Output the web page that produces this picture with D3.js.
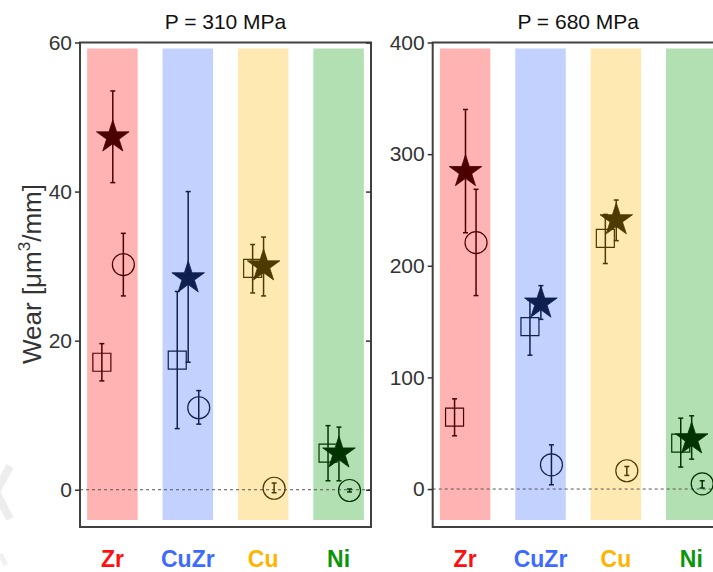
<!DOCTYPE html>
<html>
<head>
<meta charset="utf-8">
<script src="https://cdn.jsdelivr.net/npm/d3@7"></script>
<style>
  html, body { margin: 0; padding: 0; background: #fff; }
  svg { display: block; font-family: "Liberation Sans", Arial, sans-serif; }
</style>
</head>
<body>
<svg id="chart" width="713" height="572"></svg>
<script>
// Materials along the x axis
const categories = ["Zr", "CuZr", "Cu", "Ni"];
const labelColors = ["#ff1010", "#3d6bff", "#ffb400", "#0a960a"];
const bandColors = ["#ffb3b3", "#c2d1ff", "#ffe9b2", "#b2e0b2"];
const markColors = ["#4d0000", "#0f1f4f", "#4d3a00", "#003300"];

// Panel titles, y ranges and ticks
const titles = ["P = 310 MPa", "P = 680 MPa"];
const yDomain310 = [-5, 60];
const yDomain680 = [-34, 400];
const ticks310 = [0, 20, 40, 60];
const ticks680 = [0, 100, 200, 300, 400];

// Wear values per material: [mean, lower, upper]
const square310 = [[17.1, 14.6, 19.6], [17.4, 8.2, 26.6], [29.7, 26.4, 32.9], [4.9, 1.2, 8.6]];
const star310   = [[47.3, 41.2, 53.5], [28.4, 17.1, 40.0], [30.0, 26.0, 33.9], [4.9, 1.2, 8.4]];
const circle310 = [[30.2, 26.0, 34.4], [11.0, 8.8, 13.3], [0.2, -0.4, 0.9], [-0.1, -0.3, 0.1]];

const square680 = [[64.4, 47.7, 80.8], [145.5, 119.9, 169.0], [224.6, 202.0, 246.0], [41.2, 19.7, 63.5]];
const star680   = [[284.2, 229.6, 340.0], [166.4, 152.0, 182.2], [241.0, 222.5, 258.9], [44.7, 26.8, 65.6]];
const circle680 = [[220.7, 173.3, 268.5], [21.7, 3.8, 39.6], [16.4, 12.2, 20.2], [4.7, 0.9, 7.4]];

const svg = d3.select("#chart");

// faint corner mark on the left edge
svg.append("polyline")
  .attr("points", "10,466 -4,492 10,519")
  .attr("fill", "none").attr("stroke", "#ededed").attr("stroke-width", 8);
svg.append("polyline")
  .attr("points", "0,554 6,565")
  .attr("fill", "none").attr("stroke", "#f1f1f1").attr("stroke-width", 5);

const plotW = 291, plotTop = 42.5, plotBottom = 527;
const panels = [
  { x0: 80, title: titles[0], domain: yDomain310, ticks: ticks310, square: square310, star: star310, circle: circle310 },
  { x0: 432.7, title: titles[1], domain: yDomain680, ticks: ticks680, square: square680, star: star680, circle: circle680 }
];

// horizontal offsets of the three marker series within a band (fraction of step)
const offsets = { square: -0.14, star: 0.005, circle: 0.145 };

const starPath = d3.symbol(d3.symbolStar, 330)();
const squarePath = d3.symbol(d3.symbolSquare, 18 * 18)();
const circlePath = d3.symbol(d3.symbolCircle, Math.PI * 11 * 11)();

panels.forEach(p => {
  const g = svg.append("g").attr("transform", `translate(${p.x0},0)`);
  const x = d3.scalePoint().domain(categories).range([0, plotW]).padding(0.43);
  const step = x.step();
  const y = d3.scaleLinear().domain(p.domain).range([plotBottom, plotTop]);

  // coloured background bands
  g.selectAll("rect.band").data(categories).join("rect")
    .attr("class", "band")
    .attr("x", d => x(d) - 0.335 * step)
    .attr("width", 0.67 * step)
    .attr("y", plotTop + 6)
    .attr("height", plotBottom - plotTop - 13)
    .attr("fill", (d, i) => bandColors[i]);

  // zero reference line
  g.append("line")
    .attr("x1", 0).attr("x2", plotW)
    .attr("y1", y(0)).attr("y2", y(0))
    .attr("stroke", "#555").attr("stroke-width", 1)
    .attr("stroke-dasharray", "3,3");

  // markers with error bars
  const series = [
    { key: "square", data: p.square, path: squarePath, fill: false },
    { key: "circle", data: p.circle, path: circlePath, fill: false },
    { key: "star", data: p.star, path: starPath, fill: true }
  ];
  series.forEach(s => {
    const sg = g.append("g");
    s.data.forEach((v, i) => {
      const cx = x(categories[i]) + offsets[s.key] * step;
      const col = markColors[i];
      sg.append("path")
        .attr("d", s.path)
        .attr("transform", `translate(${cx},${y(v[0])})`)
        .attr("fill", s.fill ? col : "none")
        .attr("stroke", col)
        .attr("stroke-width", s.fill ? 0.8 : 1.2);
      const eb = sg.append("g").attr("stroke", col).attr("stroke-width", 1.5);
      eb.append("line").attr("x1", cx).attr("x2", cx).attr("y1", y(v[1])).attr("y2", y(v[2]));
      [v[1], v[2]].forEach(e => {
        eb.append("line").attr("x1", cx - 2.5).attr("x2", cx + 2.5).attr("y1", y(e)).attr("y2", y(e));
      });
    });
  });

  // frame
  g.append("rect")
    .attr("x", 0).attr("y", plotTop)
    .attr("width", plotW).attr("height", plotBottom - plotTop)
    .attr("fill", "none").attr("stroke", "#404040").attr("stroke-width", 2);

  // left axis with outward ticks
  const ax = g.append("g")
    .call(d3.axisLeft(y).tickValues(p.ticks).tickSize(5).tickPadding(3));
  ax.select(".domain").remove();
  ax.selectAll(".tick line").attr("stroke", "#333").attr("stroke-width", 1.5);
  ax.selectAll(".tick text")
    .attr("font-size", "21px").attr("fill", "#333")
    .attr("font-family", "Liberation Sans, Arial, sans-serif");

  // right side inward ticks
  const axr = g.append("g").attr("transform", `translate(${plotW},0)`)
    .call(d3.axisLeft(y).tickValues(p.ticks).tickSize(5).tickFormat(""));
  axr.select(".domain").remove();
  axr.selectAll(".tick line").attr("stroke", "#333").attr("stroke-width", 1.5);

  // title
  g.append("text")
    .attr("x", plotW / 2).attr("y", 29)
    .attr("text-anchor", "middle")
    .attr("font-size", "21px").attr("fill", "#111")
    .text(p.title);

  // material labels
  g.selectAll("text.cat").data(categories).join("text")
    .attr("class", "cat")
    .attr("x", d => x(d))
    .attr("y", 566.5)
    .attr("text-anchor", "middle")
    .attr("font-size", "23px").attr("font-weight", "bold")
    .attr("fill", (d, i) => labelColors[i])
    .text(d => d);
});

// y axis title
const yt = svg.append("text")
  .attr("transform", "translate(41,274) rotate(-90)")
  .attr("text-anchor", "middle")
  .attr("font-size", "26px").attr("fill", "#333");
yt.append("tspan").text("Wear [\u03bcm");
yt.append("tspan").attr("dy", -11).attr("font-size", "17px").text("3");
yt.append("tspan").attr("dy", 11).text("/mm]");
</script>
</body>
</html>
